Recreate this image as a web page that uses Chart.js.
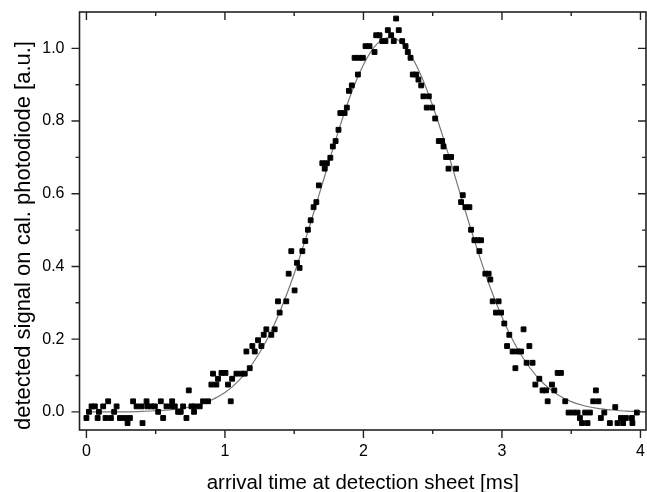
<!DOCTYPE html>
<html>
<head>
<meta charset="utf-8">
<script src="https://cdn.jsdelivr.net/npm/chart.js@4.4.1/dist/chart.umd.min.js"></script>
<style>
  html, body { margin: 0; padding: 0; background: #fff; }
  #wrap { width: 647px; height: 492px; }
</style>
</head>
<body>
<div id="wrap"><canvas id="arrivalChart"></canvas></div>
<script>
// measured signal (squares)
const timeMs = [
  0.000, 0.018, 0.037, 0.061, 0.081, 0.090, 0.121, 0.138, 0.157, 0.177,
  0.200, 0.218, 0.242, 0.278, 0.297, 0.314, 0.337, 0.362, 0.398, 0.405,
  0.434, 0.440, 0.470, 0.494, 0.518, 0.537, 0.554, 0.578, 0.614, 0.619,
  0.638, 0.662, 0.681, 0.698, 0.722, 0.739, 0.758, 0.777, 0.782, 0.818,
  0.842, 0.878, 0.902, 0.914, 0.938, 0.950, 0.975, 1.004, 1.022, 1.042,
  1.052, 1.083, 1.119, 1.143, 1.155, 1.179, 1.198, 1.215, 1.239, 1.263,
  1.280, 1.299, 1.335, 1.359, 1.383, 1.395, 1.443, 1.460, 1.479, 1.503,
  1.520, 1.539, 1.559, 1.580, 1.599, 1.619, 1.640, 1.660, 1.678, 1.703,
  1.720, 1.736, 1.761, 1.779, 1.799, 1.820, 1.833, 1.864, 1.880, 1.895,
  1.916, 1.936, 1.960, 1.967, 1.996, 2.015, 2.044, 2.080, 2.092, 2.116,
  2.136, 2.159, 2.176, 2.200, 2.219, 2.236, 2.255, 2.280, 2.304, 2.320,
  2.340, 2.356, 2.381, 2.397, 2.417, 2.433, 2.457, 2.472, 2.496, 2.518,
  2.544, 2.568, 2.578, 2.597, 2.614, 2.633, 2.669, 2.705, 2.717, 2.736,
  2.765, 2.777, 2.801, 2.825, 2.837, 2.849, 2.880, 2.904, 2.916, 2.933,
  2.957, 2.976, 2.994, 3.017, 3.037, 3.053, 3.077, 3.097, 3.113, 3.138,
  3.156, 3.178, 3.198, 3.221, 3.241, 3.270, 3.293, 3.318, 3.330, 3.361,
  3.378, 3.402, 3.426, 3.457, 3.481, 3.515, 3.546, 3.563, 3.578, 3.601,
  3.618, 3.635, 3.659, 3.678, 3.697, 3.714, 3.739, 3.779, 3.818, 3.834,
  3.859, 3.875, 3.895, 3.938, 3.942, 3.974
];
const signal = [
  -0.017, 0.000, 0.015, 0.015, -0.017, 0.000, 0.015, -0.017, 0.029, -0.017,
  0.000, 0.015, -0.017, -0.017, -0.031, -0.017, 0.029, 0.015, 0.015, -0.031,
  0.029, 0.015, 0.015, 0.015, 0.000, 0.029, -0.017, 0.015, 0.015, 0.029,
  0.015, 0.000, 0.000, 0.015, -0.017, 0.059, 0.015, 0.000, 0.015, 0.015,
  0.029, 0.029, 0.075, 0.105, 0.075, 0.091, 0.107, 0.107, 0.075, 0.029,
  0.091, 0.105, 0.105, 0.105, 0.166, 0.120, 0.181, 0.166, 0.197, 0.181,
  0.212, 0.227, 0.212, 0.227, 0.304, 0.273, 0.304, 0.380, 0.442, 0.334,
  0.410, 0.396, 0.442, 0.470, 0.501, 0.527, 0.563, 0.577, 0.623, 0.684,
  0.669, 0.684, 0.699, 0.730, 0.745, 0.776, 0.822, 0.822, 0.837, 0.883,
  0.898, 0.974, 0.928, 0.974, 0.974, 1.006, 1.006, 0.990, 1.036, 1.036,
  1.020, 1.020, 1.050, 1.036, 1.020, 1.082, 1.050, 1.020, 1.006, 0.990,
  0.974, 0.928, 0.928, 0.914, 0.898, 0.868, 0.837, 0.868, 0.837, 0.807,
  0.745, 0.745, 0.730, 0.701, 0.669, 0.701, 0.669, 0.577, 0.596, 0.563,
  0.563, 0.501, 0.472, 0.472, 0.442, 0.472, 0.380, 0.380, 0.364, 0.304,
  0.273, 0.304, 0.273, 0.243, 0.181, 0.212, 0.166, 0.120, 0.166, 0.166,
  0.227, 0.135, 0.181, 0.135, 0.075, 0.091, 0.059, 0.059, 0.029, 0.075,
  0.059, 0.107, 0.107, 0.029, -0.002, -0.002, -0.002, -0.017, -0.031, -0.002,
  -0.031, -0.002, 0.029, 0.059, 0.029, -0.017, -0.002, -0.031, 0.013, -0.031,
  -0.017, -0.031, -0.017, -0.017, -0.031, -0.002
];

// fitted curve (grey line), every 0.1 ms
const fitTime = [
  0.0, 0.1, 0.2, 0.3, 0.4, 0.5, 0.6, 0.7, 0.8, 0.9,
  1.0, 1.1, 1.2, 1.3, 1.4, 1.5, 1.6, 1.7, 1.8, 1.9,
  2.0, 2.1, 2.2, 2.3, 2.4, 2.5, 2.6, 2.7, 2.8, 2.9,
  3.0, 3.1, 3.2, 3.3, 3.4, 3.5, 3.6, 3.7, 3.8, 3.9, 4.0
];
const fitSignal = [
  0.000, 0.000, 0.000, 0.000, 0.001, 0.003, 0.005, 0.010, 0.018, 0.032,
  0.053, 0.086, 0.133, 0.196, 0.279, 0.380, 0.497, 0.623, 0.749, 0.864,
  0.955, 1.013, 1.030, 1.004, 0.939, 0.842, 0.725, 0.598, 0.473, 0.358,
  0.261, 0.182, 0.122, 0.078, 0.048, 0.028, 0.016, 0.009, 0.005, 0.002, 0.001
];

// axis ticks
const xMajorTicks = [0, 1, 2, 3, 4];
const xMinorTicks = [0.5, 1.5, 2.5, 3.5];
const yMajorTicks = [0, 0.2, 0.4, 0.6, 0.8, 1.0];
const yMinorTicks = [0.1, 0.3, 0.5, 0.7, 0.9];

const measured = timeMs.map((t, i) => ({ x: t, y: signal[i] }));
const fitted = fitTime.map((t, i) => ({ x: t, y: fitSignal[i] }));

const AXIS_COLOR = '#222';
const FONT = 'Liberation Sans, Arial, sans-serif';

// fixed axis boxes, no extra label overflow padding
function fixBox(s, size) {
  if (s.isHorizontal()) s.height = size; else s.width = size;
  s.paddingTop = s.paddingBottom = s.paddingLeft = s.paddingRight = 0;
}

// box frame with Origin-style ticks: outward on bottom/left, inward on top/right
const frameTicks = {
  id: 'frameTicks',
  afterDatasetsDraw(chart) {
    const { ctx, chartArea: a, scales: { x, y } } = chart;
    ctx.save();
    ctx.strokeStyle = AXIS_COLOR;
    ctx.lineWidth = 1.6;
    ctx.strokeRect(a.left, a.top, a.right - a.left, a.bottom - a.top);
    ctx.lineWidth = 1.4;
    ctx.beginPath();
    const xt = (v, len) => {
      const px = x.getPixelForValue(v);
      ctx.moveTo(px, a.bottom); ctx.lineTo(px, a.bottom + len);
      ctx.moveTo(px, a.top); ctx.lineTo(px, a.top + len);
    };
    const yt = (v, len) => {
      const py = y.getPixelForValue(v);
      ctx.moveTo(a.left, py); ctx.lineTo(a.left - len, py);
      ctx.moveTo(a.right, py); ctx.lineTo(a.right - len, py);
    };
    xMajorTicks.forEach(v => xt(v, 8));
    xMinorTicks.forEach(v => xt(v, 4));
    yMajorTicks.forEach(v => yt(v, 8));
    yMinorTicks.forEach(v => yt(v, 4));
    ctx.stroke();
    ctx.restore();
  }
};

new Chart(document.getElementById('arrivalChart'), {
  type: 'scatter',
  data: {
    datasets: [
      {
        label: 'signal',
        data: measured,
        pointStyle: 'rect',
        pointRadius: 3.4,
        backgroundColor: '#000',
        borderColor: '#000',
        borderWidth: 1,
      },
      {
        type: 'line',
        label: 'fit',
        data: fitted,
        borderColor: '#777',
        borderWidth: 1.2,
        pointRadius: 0,
        fill: false,
        cubicInterpolationMode: 'monotone',
      },
    ],
  },
  options: {
    responsive: true,
    maintainAspectRatio: false,
    animation: false,
    layout: { autoPadding: false, padding: { top: 12, right: 1, left: 0, bottom: 0 } },
    plugins: {
      legend: { display: false },
      tooltip: { enabled: false },
    },
    scales: {
      x: {
        type: 'linear',
        min: -0.05,
        max: 4.04,
        afterBuildTicks: s => { s.ticks = xMajorTicks.map(v => ({ value: v })); },
        afterFit: s => fixBox(s, 62),
        grid: { display: false, drawTicks: false },
        border: { display: false },
        ticks: {
          color: '#000',
          padding: 12,
          font: { family: FONT, size: 16 },
          callback: v => String(v),
        },
        title: {
          display: true,
          text: 'arrival time at detection sheet [ms]',
          color: '#000',
          padding: 0,
          font: { family: FONT, size: 20.5, lineHeight: 0.8 },
        },
      },
      y: {
        type: 'linear',
        min: -0.05,
        max: 1.1,
        afterBuildTicks: s => { s.ticks = yMajorTicks.map(v => ({ value: v })); },
        afterFit: s => fixBox(s, 79.5),
        grid: { display: false, drawTicks: false },
        border: { display: false },
        ticks: {
          color: '#000',
          padding: 15,
          font: { family: FONT, size: 16 },
          callback: v => v.toFixed(1),
        },
        title: {
          display: true,
          text: 'detected signal on cal. photodiode [a.u.]',
          color: '#000',
          align: 'start',
          padding: { top: 11, bottom: 0 },
          font: { family: FONT, size: 22 },
        },
      },
    },
  },
  plugins: [frameTicks],
});
</script>
</body>
</html>
